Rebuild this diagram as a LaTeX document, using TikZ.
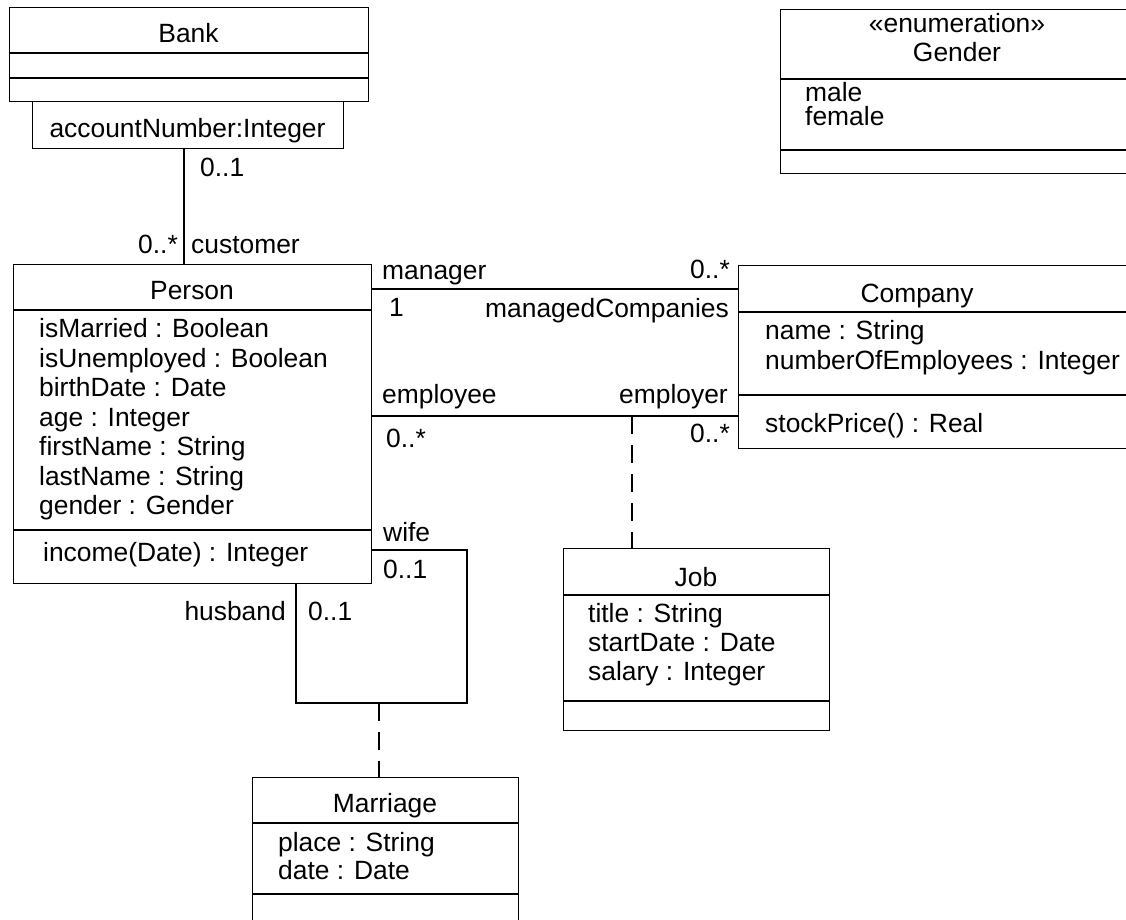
\documentclass[tikz,border=0pt]{standalone}
\usepackage{fontspec}
\setmainfont{Liberation Sans}
\newcommand\umlsize{\fontsize{26.4}{29.5}\selectfont}

\begin{document}
\begin{tikzpicture}[x=1pt,y=-1pt,
  box/.style={draw, rectangle, inner sep=0pt, anchor=north west, line width=1.2pt},
  sep/.style={line width=1.2pt},
  assoc/.style={line width=1.2pt},
  dep/.style={line width=1.2pt, dash pattern=on 18pt off 11pt},
  lbl/.style={inner sep=0pt, font=\umlsize},
  ]
\useasboundingbox (0,0) rectangle (1126,920);
\clip (0,0) rectangle (1126,920);
\fill[white] (0,0) rectangle (1126,920);

% ---------- Bank with qualifier ----------
\node[box, minimum width=359, minimum height=94] (bank) at (9,7) {};
\draw[sep] ([yshift=-46pt]bank.north west) -- ([yshift=-46pt]bank.north east);
\draw[sep] ([yshift=-71pt]bank.north west) -- ([yshift=-71pt]bank.north east);
\node[lbl, anchor=base] (bankname) at (188.5,42.5) {Bank};
\node[box, minimum width=311, minimum height=47] (bankq) at (32,101) {};
\node[lbl, anchor=base] (bankqtext) at (187.5,137.5) {accountNumber:Integer};

% ---------- Person ----------
\node[box, minimum width=358, minimum height=319] (person) at (13,264) {};
\draw[sep] ([yshift=-46pt]person.north west) -- ([yshift=-46pt]person.north east);
\draw[sep] ([yshift=-266pt]person.north west) -- ([yshift=-266pt]person.north east);
\node[lbl, anchor=base] (personname) at (192,299.5) {Person};
\node[lbl, anchor=base west] (pa1) at (39,337.5) {isMarried : Boolean};
\node[lbl, anchor=base west] (pa2) at (39,367) {isUnemployed : Boolean};
\node[lbl, anchor=base west] (pa3) at (39,396.5) {birthDate : Date};
\node[lbl, anchor=base west] (pa4) at (39,426) {age : Integer};
\node[lbl, anchor=base west] (pa5) at (39,455.5) {firstName : String};
\node[lbl, anchor=base west] (pa6) at (39,485) {lastName : String};
\node[lbl, anchor=base west] (pa7) at (39,514.5) {gender : Gender};
\node[lbl, anchor=base west] (pm1) at (43,561) {income(Date) : Integer};

% ---------- Company ----------
\node[box, minimum width=402, minimum height=183] (company) at (738,265) {};
\draw[sep] ([yshift=-47pt]company.north west) -- ([yshift=-47pt]company.north east);
\draw[sep] ([yshift=-130pt]company.north west) -- ([yshift=-130pt]company.north east);
\node[lbl, anchor=base] (companyname) at (917,302) {Company};
\node[lbl, anchor=base west] (ca1) at (765,339.5) {name : String};
\node[lbl, anchor=base west] (ca2) at (765,369) {numberOfEmployees : Integer};
\node[lbl, anchor=base west] (cm1) at (765,432) {stockPrice() : Real};

% ---------- Gender enumeration ----------
\node[box, minimum width=360, minimum height=164] (gender) at (780,9) {};
\draw[sep] ([yshift=-70pt]gender.north west) -- ([yshift=-70pt]gender.north east);
\draw[sep] ([yshift=-141pt]gender.north west) -- ([yshift=-141pt]gender.north east);
\node[lbl, anchor=base] (genderst) at (957,33) {«enumeration»};
\node[lbl, anchor=base] (gendername) at (957,62) {Gender};
\node[lbl, anchor=base west] (gl1) at (805,102) {male};
\node[lbl, anchor=base west] (gl2) at (805,126) {female};

% ---------- Job ----------
\node[box, minimum width=266, minimum height=182] (job) at (563,548) {};
\draw[sep] ([yshift=-47pt]job.north west) -- ([yshift=-47pt]job.north east);
\draw[sep] ([yshift=-153pt]job.north west) -- ([yshift=-153pt]job.north east);
\node[lbl, anchor=base] (jobname) at (696,586) {Job};
\node[lbl, anchor=base west] (ja1) at (588,622) {title : String};
\node[lbl, anchor=base west] (ja2) at (588,651) {startDate : Date};
\node[lbl, anchor=base west] (ja3) at (588,680) {salary : Integer};

% ---------- Marriage ----------
\node[box, minimum width=266, minimum height=150] (marriage) at (252,777) {};
\draw[sep] ([yshift=-46pt]marriage.north west) -- ([yshift=-46pt]marriage.north east);
\draw[sep] ([yshift=-117pt]marriage.north west) -- ([yshift=-117pt]marriage.north east);
\node[lbl, anchor=base] (marriagename) at (385,812) {Marriage};
\node[lbl, anchor=base west] (ma1) at (278,851) {place : String};
\node[lbl, anchor=base west] (ma2) at (278,879) {date : Date};

% ---------- helper coordinates ----------
\coordinate (custx) at (184,0);
\coordinate (mgry) at (0,289);
\coordinate (empy) at (0,416);
\coordinate (wifey) at (0,550);
\coordinate (marcorner) at (467,703);
\coordinate (husbx) at (296,0);
\coordinate (jobx) at (632,0);
\coordinate (marx) at (379,0);

% ---------- associations ----------
% Bank (qualified) -- Person
\draw[assoc] (custx |- bankq.south) -- (custx |- person.north);
\node[lbl, anchor=base west] (m01bank) at (200,177) {0..1};
\node[lbl, anchor=base east] (m0nbank) at (178,253) {0..*};
\node[lbl, anchor=base west] (rcust) at (191,253) {customer};

% Person -- Company (management)
\draw[assoc] (person.east |- mgry) -- (company.west |- mgry);
\node[lbl, anchor=base west] (rmgr) at (382,279) {manager};
\node[lbl, anchor=base east] (m0nmgr) at (730,278) {0..*};
\node[lbl, anchor=base west] (m1mgr) at (389,316.5) {1};
\node[lbl, anchor=base east] (rmc) at (729,317) {managedCompanies};

% Person -- Company (employment)
\draw[assoc] (person.east |- empy) -- (company.west |- empy);
\node[lbl, anchor=base west] (remp) at (382,403) {employee};
\node[lbl, anchor=base east] (remployer) at (728,403) {employer};
\node[lbl, anchor=base west] (m0nemp) at (386,447) {0..*};
\node[lbl, anchor=base east] (m0nemployer) at (730,442) {0..*};

% Job as association class
\draw[dep] (jobx |- empy) -- (jobx |- job.north);

% Person -- Person (marriage)
\draw[assoc] (person.east |- wifey) -| (marcorner) -| (husbx |- person.south);
\node[lbl, anchor=base west] (rwife) at (383,541) {wife};
\node[lbl, anchor=base west] (m01wife) at (383,578) {0..1};
\node[lbl, anchor=base east] (rhusb) at (286,620) {husband};
\node[lbl, anchor=base west] (m01husb) at (308,620) {0..1};

% Marriage as association class
\draw[dep] (marx |- marcorner) -- (marx |- marriage.north);
\end{tikzpicture}
\end{document}
